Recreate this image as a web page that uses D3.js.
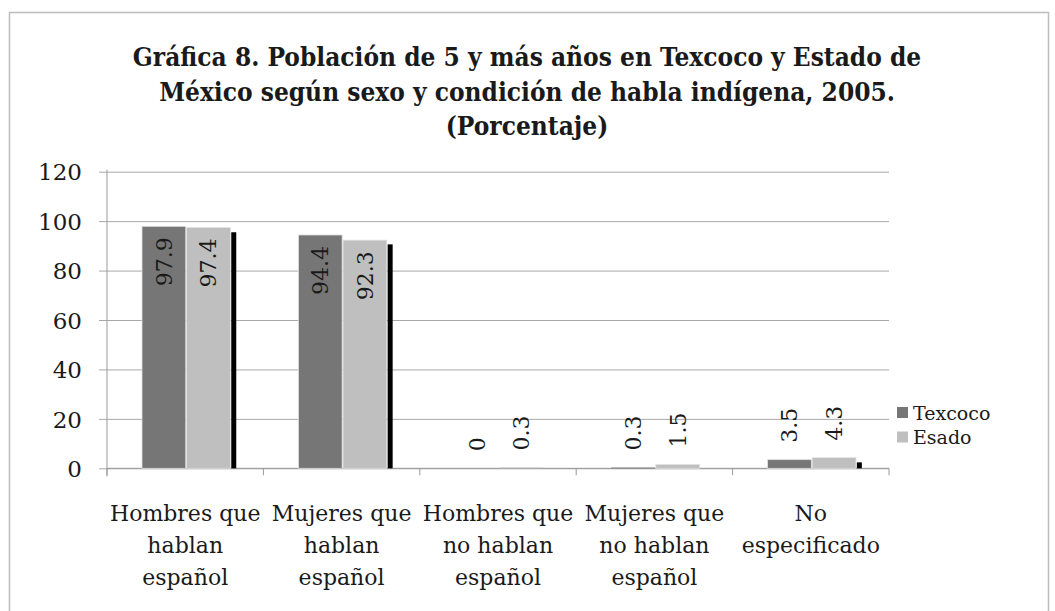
<!DOCTYPE html>
<meta charset="utf-8">
<style>
html{ background:#fff; }
body{ margin:0; }
text{ font-family:"DejaVu Serif", serif; fill:#1a1a1a; }
.title{ font-weight:bold; font-stretch:condensed; }
</style>
<body>
<script src="https://d3js.org/d3.v7.min.js"></script>
<script>

var width = 1055,
    height = 611;

// data
var categories = [
  ["Hombres que", "hablan", "español"],
  ["Mujeres que", "hablan", "español"],
  ["Hombres que", "no hablan", "español"],
  ["Mujeres que", "no hablan", "español"],
  ["No", "especificado"]
];
var seriesNames = ["Texcoco", "Esado", ""];
var texcoco = [97.9, 94.4, 0, 0.3, 3.5];
var esado = [97.4, 92.3, 0.3, 1.5, 4.3];
var extra = [95.5, 90.6, 0, 0, 2.4];   // unlabelled black series
var yTicks = [0, 20, 40, 60, 80, 100, 120];
var titleLines = [
  "Gráfica 8. Población de 5 y más años en Texcoco y Estado de",
  "México según sexo y condición de habla indígena, 2005.",
  "(Porcentaje)"
];
var colors = ["#767676", "#bfbfbf", "#000"];

var values = [texcoco, esado, extra];

var svg = d3.select("body").append("svg")
    .attr("width", width)
    .attr("height", height);

// outer frame
svg.append("rect")
  .attr("x", 9.5).attr("y", 12.5)
  .attr("width", 1039).attr("height", 620)
  .attr("fill", "none")
  .attr("stroke", "#bdbdbd")
  .attr("stroke-width", 1.5);

var pLeft = 107, pRight = 889, pTop = 171.7, pBottom = 468.3;

var x = d3.scaleBand()
    .domain(d3.range(categories.length))
    .range([pLeft, pRight]);

var x1 = d3.scaleBand()
    .domain(seriesNames)
    .range([35, 168])
    .paddingInner(0.02);

var y = d3.scaleLinear()
    .domain([0, 120])
    .range([pBottom, pTop]);

// title
svg.append("g").selectAll("text")
  .data(titleLines)
  .enter().append("text")
  .attr("class", "title")
  .attr("x", 527)
  .attr("y", function(d, i){ return 66 + i * 34.5; })
  .attr("text-anchor", "middle")
  .attr("font-size", 26)
  .text(function(d){ return d; });

// grid + y axis
var gy = svg.append("g")
  .attr("transform", "translate(" + pLeft + ",0)")
  .call(d3.axisLeft(y).tickValues(yTicks).tickSize(-(pRight - pLeft)).tickPadding(25));
gy.select(".domain").remove();
gy.selectAll(".tick line").attr("stroke", "#a8a8a8").attr("x1", -8);
gy.selectAll(".tick text").attr("font-size", 23).attr("font-family", "DejaVu Serif").attr("fill", "#1a1a1a").attr("dy", "0.36em");

svg.append("line")
  .attr("x1", pLeft).attr("x2", pLeft)
  .attr("y1", pTop - 2).attr("y2", pBottom + 8)
  .attr("stroke", "#999");

// x axis
var gx = svg.append("g")
  .attr("transform", "translate(0," + pBottom + ")");
gx.append("line")
  .attr("x1", pLeft).attr("x2", pRight)
  .attr("stroke", "#999");
gx.selectAll("line.tk")
  .data(d3.range(categories.length + 1))
  .enter().append("line")
  .attr("class", "tk")
  .attr("x1", function(d){ return d < categories.length ? x(d) : pRight; })
  .attr("x2", function(d){ return d < categories.length ? x(d) : pRight; })
  .attr("y1", 0).attr("y2", 7)
  .attr("stroke", "#999");

var cl = svg.append("g").selectAll("text")
  .data(categories)
  .enter().append("text")
  .attr("text-anchor", "middle")
  .attr("font-size", 22)
  .attr("transform", function(d, i){ return "translate(" + (x(i) + x.bandwidth() / 2) + ",521)"; });
cl.selectAll("tspan")
  .data(function(d){ return d; })
  .enter().append("tspan")
  .attr("x", 0)
  .attr("y", function(d, i){ return i * 32; })
  .text(function(d){ return d; });

// bars
var groups = svg.append("g").selectAll("g")
  .data(categories)
  .enter().append("g")
  .attr("transform", function(d, i){ return "translate(" + x(i) + ",0)"; });

groups.selectAll("rect")
  .data(function(d, i){ return values.map(function(v, s){ return {s: s, v: v[i]}; }); })
  .enter().append("rect")
  .attr("x", function(d){ return x1(seriesNames[d.s]); })
  .attr("width", function(d){ return d.s === 2 ? 5 : x1.bandwidth(); })
  .attr("y", function(d){ return y(d.v); })
  .attr("height", function(d){ return pBottom - y(d.v); })
  .attr("fill", function(d){ return colors[d.s]; })
  .attr("stroke", function(d){ return d.s === 2 || d.v < 1 ? "none" : "#e0e0e0"; })
  .attr("stroke-width", 0.8);

// value labels
groups.selectAll("text")
  .data(function(d, i){ return values.slice(0, 2).map(function(v, s){ return {s: s, v: v[i]}; }); })
  .enter().append("text")
  .attr("font-size", 22)
  .attr("dy", "0.36em")
  .attr("text-anchor", function(d){ return d.v > 10 ? "end" : "start"; })
  .attr("transform", function(d){
    var cx = x1(seriesNames[d.s]) + x1.bandwidth() / 2;
    var ty = d.v > 10 ? y(d.v) + 11 : y(d.v) - 17;
    return "translate(" + cx + "," + ty + ") rotate(-90)";
  })
  .text(function(d){ return d.v; });

// legend
var lg = svg.append("g").selectAll("g")
  .data(seriesNames.slice(0, 2))
  .enter().append("g")
  .attr("transform", function(d, i){ return "translate(897," + (413 + i * 24.5) + ")"; });
lg.append("rect")
  .attr("x", 0).attr("y", -6)
  .attr("width", 11).attr("height", 11)
  .attr("fill", function(d, i){ return colors[i]; });
lg.append("text")
  .attr("x", 16)
  .attr("dy", "0.35em")
  .attr("font-size", 19)
  .text(function(d){ return d; });

</script>
</body>
